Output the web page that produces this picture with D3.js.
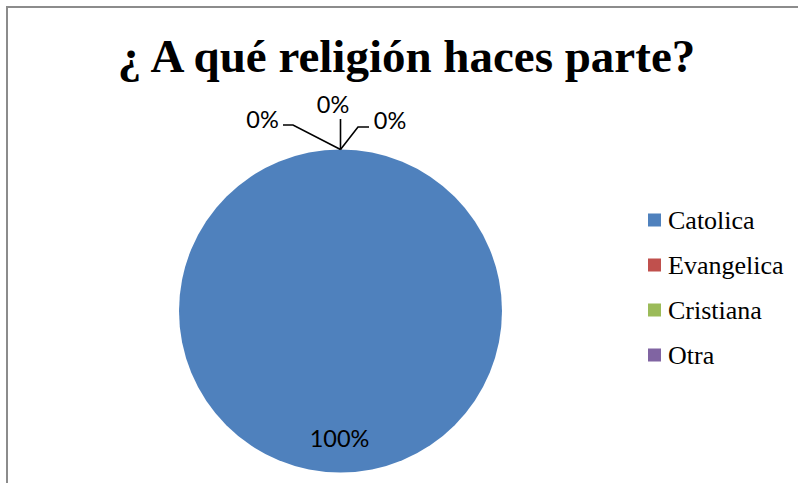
<!DOCTYPE html>
<html>
<head>
<meta charset="utf-8">
<script src="https://cdn.jsdelivr.net/npm/d3@7"></script>
<style>
  html, body { margin: 0; padding: 0; background: #fff; }
  svg { display: block; }
</style>
</head>
<body>
<svg id="chart" width="798" height="483"></svg>
<script>
// Survey answers: share of respondents per religion (percent)
const categories = ["Catolica", "Evangelica", "Cristiana", "Otra"];
const values = [100, 0, 0, 0];
const colors = ["#4F81BD", "#C0504D", "#9BBB59", "#8064A2"];
const titleText = "¿ A qué religión haces parte?";

const svg = d3.select("#chart");
const W = 798, H = 483;

// chart area frame
svg.append("rect")
  .attr("x", 7).attr("y", 7)
  .attr("width", W + 20).attr("height", H + 20)
  .attr("fill", "#fff")
  .attr("stroke", "#8c8c8c")
  .attr("stroke-width", 2);

// title
svg.append("text")
  .attr("x", 406.5).attr("y", 72)
  .attr("text-anchor", "middle")
  .attr("font-family", "'Liberation Serif', 'Times New Roman', serif")
  .attr("font-weight", "bold")
  .attr("font-size", 47)
  .text(titleText);

// pie
const cx = 340.5, cy = 311, r = 161.5;
const g = svg.append("g").attr("transform", `translate(${cx},${cy})`);

const pie = d3.pie().sort(null).value(d => d);
const arcs = pie(values);
const arc = d3.arc().innerRadius(0).outerRadius(r);

g.selectAll("path.slice")
  .data(arcs)
  .enter().append("path")
  .attr("class", "slice")
  .attr("d", arc)
  .attr("fill", (d, i) => colors[i]);

const total = d3.sum(values);
const pct = v => Math.round(v / total * 100) + "%";
const labelFont = "Lato, 'Liberation Sans', Arial, sans-serif";
const labelSize = 23.5;

// labels inside non-empty slices
arcs.forEach((d, i) => {
  if (d.value <= 0) return;
  const mid = (d.startAngle + d.endAngle) / 2;
  const rr = r * 0.79;
  g.append("text")
    .attr("x", Math.sin(mid) * rr - 1)
    .attr("y", -Math.cos(mid) * rr)
    .attr("text-anchor", "middle")
    .attr("dy", "0.36em")
    .attr("font-family", labelFont)
    .attr("font-size", labelSize)
    .attr("fill", "#000")
    .text(pct(d.value));
});

// empty slices: labels pulled outward with leader lines
const outside = arcs.filter(d => d.value <= 0);
// label offsets (relative to the slice point on the rim): elbow, end of line, text anchor
const callouts = [
  { elbow: [-47.5, -24.5], end: [-57.5, -24.5], text: [-78, -21.5] },
  { elbow: [0, -30.5],     end: [0, -30.5],     text: [-7.5, -36.5] },
  { elbow: [17.5, -22.5],  end: [28.5, -22.5],  text: [49.5, -20.5] }
];

outside.forEach((d, k) => {
  const a = d.startAngle;
  const px = Math.sin(a) * r, py = -Math.cos(a) * r;
  const c = callouts[k];
  const pts = [[px, py], [px + c.elbow[0], py + c.elbow[1]], [px + c.end[0], py + c.end[1]]];
  g.append("path")
    .attr("d", d3.line()(pts))
    .attr("fill", "none")
    .attr("stroke", "#000")
    .attr("stroke-width", 1.6);
  g.append("text")
    .attr("x", px + c.text[0])
    .attr("y", py + c.text[1])
    .attr("text-anchor", "middle")
    .attr("font-family", labelFont)
    .attr("font-size", labelSize)
    .attr("fill", "#000")
    .text(pct(d.value));
});

// legend
const legendY = d3.scalePoint().domain(categories).range([220, 355]);
const legend = svg.append("g");
categories.forEach((c, i) => {
  const y = legendY(c);
  legend.append("rect")
    .attr("x", 648).attr("y", y - 6.5)
    .attr("width", 13).attr("height", 13)
    .attr("fill", colors[i]);
  legend.append("text")
    .attr("x", 668).attr("y", y + 8.5)
    .attr("font-family", "'Liberation Serif', 'Times New Roman', serif")
    .attr("font-size", 26)
    .attr("fill", "#000")
    .text(c);
});
</script>
</body>
</html>
